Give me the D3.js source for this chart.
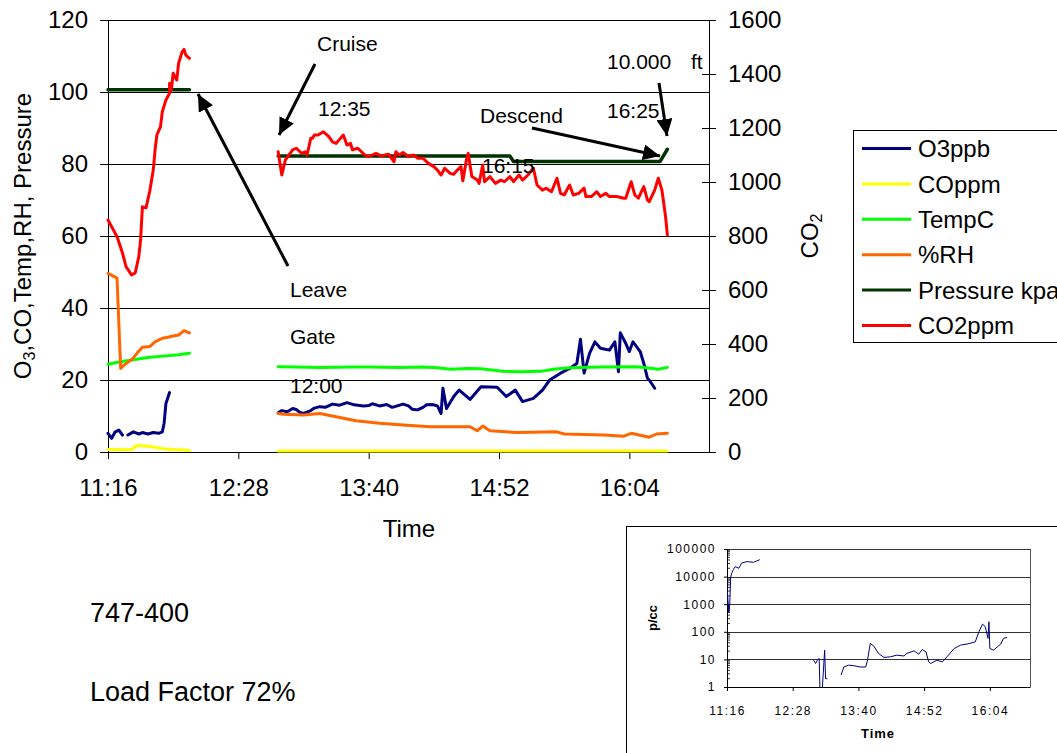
<!DOCTYPE html>
<html>
<head>
<meta charset="utf-8">
<script src="https://cdn.jsdelivr.net/npm/d3@7"></script>
<style>
body { margin: 0; background: #fff; }
svg text { font-family: Arial, "Liberation Sans", sans-serif; fill: #000; }
</style>
</head>
<body>
<svg id="chart" width="1057" height="753"></svg>
<script>
// ---- data: [clock time, value], null breaks the line ----
var o3ppb = [["11:16",5.2],["11:18",3.8],["11:20",5.6],["11:22",6.1],["11:24",4.7],["11:25",null],
  ["11:27",4.7],["11:30",5.6],["11:33",5.0],["11:35",5.4],["11:38",5.0],["11:41",5.4],["11:44",5.2],
  ["11:46",5.6],["11:47",8.0],["11:48",13.5],["11:50",16.5],["12:20",null],
  ["12:50",10.9],["12:52",11.5],["12:55",11.2],["12:58",12.1],["13:00",11.8],["13:02",11.0],["13:04",10.7],
  ["13:08",11.5],["13:10",12.2],["13:13",12.6],["13:16",12.4],["13:20",13.3],["13:24",13.0],["13:28",13.7],
  ["13:32",13.1],["13:37",12.8],["13:40",12.9],["13:42",13.4],["13:46",12.8],["13:50",13.2],["13:53",12.4],
  ["13:59",13.3],["14:02",12.8],["14:04",11.9],["14:07",11.7],["14:10",12.4],["14:12",13.1],["14:15",13.2],
  ["14:18",12.8],
  ["14:20",10.7],["14:21",17.7],["14:23",12.1],["14:27",15.4],["14:30",17.2],["14:36",14.6],["14:42",18.1],
  ["14:51",18.0],["14:56",15.4],["15:01",17.2],["15:05",14.0],["15:11",14.9],["15:16",17.2],["15:20",20.0],
  ["15:26",21.9],["15:31",23.2],["15:35",24.6],["15:37",31.3],["15:39",21.9],["15:42",27.4],["15:45",30.6],
  ["15:48",28.8],["15:53",28.3],["15:56",30.6],["15:58",22.3],["15:59",33.1],["16:02",30.2],["16:04",27.9],
  ["16:06",30.6],["16:10",27.9],["16:12",24.6],["16:14",20.5],["16:15",20.0],["16:18",17.7]];

var coppm = [["11:16",0.7],["11:29",0.6],["11:32",1.9],["11:39",1.5],["11:48",0.8],["12:01",0.4],["12:20",null],
  ["12:50",0.3],["16:25",0.3]];

var tempC = [["11:16",24.4],["11:22",25.0],["11:30",25.6],["11:39",26.3],["11:48",26.7],["11:55",27.0],["12:01",27.4],
  ["12:20",null],
  ["12:50",23.7],["13:00",23.6],["13:13",23.5],["13:30",23.6],["13:41",23.6],["13:57",23.5],["14:10",23.6],
  ["14:18",23.4],["14:25",23.0],["14:35",23.2],["14:42",23.1],["14:54",22.4],["15:04",22.3],["15:15",22.4],
  ["15:22",23.0],["15:31",23.4],["15:48",23.6],["16:08",23.7],["16:17",23.2],["16:20",23.0],["16:25",23.5]];

var rh = [["11:16",49.6],["11:20",48.6],["11:21",48.2],["11:23",23.2],["11:25",24.2],["11:29",25.6],["11:32",27.4],
  ["11:35",29.1],["11:39",29.3],["11:42",30.6],["11:46",31.6],["11:49",31.9],["11:52",32.2],["11:55",32.5],
  ["11:58",33.7],["12:01",33.1],["12:20",null],
  ["12:50",10.7],["12:53",10.5],["13:04",10.3],["13:13",10.7],["13:22",9.8],["13:33",8.7],["13:46",8.0],
  ["13:59",7.5],["14:14",7.0],["14:29",7.0],["14:36",7.0],["14:40",5.9],["14:43",7.2],["14:47",5.9],
  ["15:02",5.4],["15:24",5.6],["15:28",5.0],["15:50",4.7],["16:01",4.4],["16:05",5.2],["16:15",4.1],
  ["16:19",5.0],["16:25",5.2]];

var pressure = [["11:16",100.6],["12:01",100.6],["12:20",null],
  ["12:50",82.2],["14:58",82.2],["15:00",80.7],["16:21",80.7],["16:25",84.1]];

var co2ppm = [["11:16",859],["11:19",822],["11:21",797],["11:24",737],["11:26",686],["11:29",656],["11:31",663],
  ["11:33",723],["11:34",785],["11:35",908],["11:37",904],["11:39",964],["11:41",1044],["11:42",1119],
  ["11:43",1174],["11:45",1205],["11:46",1260],["11:48",1304],["11:50",1329],["11:50",1366],["11:51",1341],
  ["11:52",1403],["11:54",1378],["11:55",1440],["11:57",1483],["11:58",1491],["11:59",1470],["12:01",1458],
  ["12:20",null],
  ["12:50",1112],["12:52",1026],["12:54",1082],["12:58",1119],["13:00",1125],["13:03",1106],["13:05",1112],
  ["13:06",1100],["13:08",1162],["13:09",1162],["13:10",1174],["13:12",1174],["13:15",1186],["13:18",1168],
  ["13:20",1149],["13:22",1143],["13:26",1174],["13:28",1137],["13:30",1143],["13:31",1119],["13:34",1125],
  ["13:36",1112],["13:38",1100],["13:40",1094],["13:42",1100],["13:44",1106],["13:47",1096],["13:49",1100],
  ["13:51",1103],["13:54",1075],["13:55",1112],["13:57",1100],["13:59",1109],["14:02",1094],["14:05",1100],
  ["14:07",1088],["14:10",1088],["14:13",1069],["14:16",1057],["14:18",1044],["14:20",1026],["14:22",1051],
  ["14:25",1032],["14:27",1029],["14:29",1044],["14:31",1057],["14:32",1004],["14:34",1082],["14:35",1106],
  ["14:37",1020],["14:40",1007],["14:41",995],["14:43",1063],["14:44",1001],["14:47",1020],["14:50",995],
  ["14:53",1007],["14:55",1001],["14:58",1020],["15:00",1001],["15:03",1026],["15:05",1007],["15:08",1026],
  ["15:11",1051],["15:13",989],["15:16",970],["15:18",977],["15:21",964],["15:24",1014],["15:26",958],
  ["15:28",952],["15:31",989],["15:33",952],["15:36",958],["15:39",977],["15:40",946],["15:43",946],
  ["15:46",964],["15:48",946],["15:51",958],["15:53",946],["15:57",946],["16:01",940],["16:02",940],
  ["16:05",1001],["16:07",952],["16:09",940],["16:12",983],["16:14",933],["16:15",927],["16:18",970],
  ["16:20",1014],["16:22",970],["16:24",872],["16:25",804]];

// particle counts for the small log chart
var particles = [["11:16",4000],["11:17",1500],["11:18",500],["11:19",1000],["11:20",9000],["11:21",13000],
  ["11:23",18000],["11:25",23000],["11:29",20000],["11:32",31000],["11:38",35000],["11:45",33000],["11:52",41000],
  ["12:20",null],
  ["12:51",9.4],["12:53",7.1],["12:55",9.4],["12:57",10.8],["12:58",0.5],["13:00",0.5],["13:03",21.6],
  ["13:04",2.0],["13:06",2.0],["13:12",null],
  ["13:21",2.7],["13:24",5.3],["13:29",6.2],["13:35",5.9],["13:42",5.3],["13:48",5.3],["13:50",9.4],
  ["13:53",38],["13:57",30],["14:02",16.4],["14:08",11.8],["14:15",12.4],["14:22",14.2],["14:30",13.3],
  ["14:33",16.4],["14:41",20.4],["14:46",15.4],["14:50",22.9],["14:54",18.8],["14:57",8.1],["14:59",7.1],
  ["15:06",9.4],["15:12",8.1],["15:17",12.4],["15:25",25],["15:32",33],["15:39",36],["15:48",43],
  ["15:52",100],["15:56",190],["15:59",153],["16:02",58],["16:03",232],["16:04",25],["16:08",21.6],
  ["16:12",28],["16:16",36],["16:19",58],["16:23",63]];

var timeTicks = ["11:16","12:28","13:40","14:52","16:04"];
var leftTicks = [0,20,40,60,80,100,120];
var rightTicks = [0,200,400,600,800,1000,1200,1400,1600];
var logTicks = [1,10,100,1000,10000,100000];

var seriesNames = ["O3ppb","COppm","TempC","%RH","Pressure kpa","CO2ppm"];
var seriesColors = ["#000080","#ffff00","#00ff00","#ff6600","#003300","#ff0000"];

// ---- helpers ----
var toMin = function(s){ var p = s.split(":"); return (+p[0])*60 + (+p[1]); };
var fmtMin = function(m){ var h = Math.floor(m/60), mm = m%60; return h + ":" + (mm < 10 ? "0" : "") + mm; };
var font = "Arial, 'Liberation Sans', sans-serif";

var svg = d3.select("#chart");
svg.append("rect").attr("width",1057).attr("height",753).attr("fill","#fff");

// ---- main chart ----
var x = d3.scaleLinear().domain([toMin("11:16"), toMin("16:48")]).range([108, 709]);
var yL = d3.scaleLinear().domain([0,120]).range([452,20]);
var yR = d3.scaleLinear().domain([0,1600]).range([452,20]);

// gridlines
svg.append("g").selectAll("line").data(leftTicks).enter().append("line")
    .attr("x1",108).attr("x2",709)
    .attr("y1",function(d){ return Math.round(yL(d)) + 0.5; })
    .attr("y2",function(d){ return Math.round(yL(d)) + 0.5; })
    .attr("stroke","#000").attr("stroke-width",1);

function styleAxis(g, size){
    g.attr("font-family", font).attr("font-size", size).attr("color","#000");
}

var gLeft = svg.append("g").attr("transform","translate(108,0)")
    .call(d3.axisLeft(yL).tickValues(leftTicks).tickSizeInner(8).tickSizeOuter(0).tickPadding(12));
styleAxis(gLeft, 24);

var gRight = svg.append("g").attr("transform","translate(709,0)")
    .call(d3.axisRight(yR).tickValues(rightTicks).tickFormat(d3.format("d"))
        .tickSizeInner(7).tickSizeOuter(0).tickPadding(12));
styleAxis(gRight, 24);
gRight.selectAll(".tick line").attr("x1",-7);

var gBottom = svg.append("g").attr("transform","translate(0,452)")
    .call(d3.axisBottom(x).tickValues(timeTicks.map(toMin)).tickFormat(fmtMin)
        .tickSizeInner(7).tickSizeOuter(0).tickPadding(20));
styleAxis(gBottom, 24);

// series lines
var allSeries = [o3ppb, coppm, tempC, rh, pressure, co2ppm];
var series = seriesNames.map(function(n, i){
    return {name: n, color: seriesColors[i], data: allSeries[i], y: n === "CO2ppm" ? yR : yL,
            width: n === "Pressure kpa" ? 3.5 : 3};
});

series.forEach(function(s){
    var line = d3.line()
        .defined(function(d){ return d[1] !== null; })
        .x(function(d){ return x(toMin(d[0])); })
        .y(function(d){ return s.y(d[1]); });
    svg.append("path").datum(s.data)
        .attr("d", line)
        .attr("fill","none")
        .attr("stroke", s.color)
        .attr("stroke-width", s.width)
        .attr("stroke-linejoin","round")
        .attr("stroke-linecap","round");
});

// axis titles
var leftTitle = svg.append("text")
    .attr("transform","translate(31,236) rotate(-90)")
    .attr("text-anchor","middle").attr("font-size",24);
leftTitle.append("tspan").text("O");
leftTitle.append("tspan").attr("font-size",16).attr("dy",4).text("3");
leftTitle.append("tspan").attr("dy",-4).text(",CO,Temp,RH, Pressure");

var rightTitle = svg.append("text")
    .attr("transform","translate(818,236) rotate(-90)")
    .attr("text-anchor","middle").attr("font-size",24);
rightTitle.append("tspan").text("CO");
rightTitle.append("tspan").attr("font-size",16).attr("dy",4).text("2");

svg.append("text").attr("x",409).attr("y",537).attr("text-anchor","middle")
    .attr("font-size",24).text("Time");

// annotations
var notes = [
    ["Cruise",317,51],["12:35",318,116],["10.000",607,69],["ft",691,69],["16:25",607,118],
    ["Descend",480,123],["16:15",482,173],["Leave",290,297],["Gate",290,344],["12:00",290,393]
];
svg.append("g").selectAll("text").data(notes).enter().append("text")
    .attr("x",function(d){ return d[1]; }).attr("y",function(d){ return d[2]; })
    .attr("font-size",21).text(function(d){ return d[0]; });

svg.append("defs").append("marker")
    .attr("id","head").attr("markerUnits","userSpaceOnUse")
    .attr("markerWidth",18).attr("markerHeight",16)
    .attr("refX",17).attr("refY",8).attr("orient","auto")
    .append("path").attr("d","M0,0 L17,8 L0,16 Z").attr("fill","#000");

var arrows = [[315,64,279,135],[288,266,198,94],[532,128,660,156],[659,83,667,136]];
svg.append("g").selectAll("line").data(arrows).enter().append("line")
    .attr("x1",function(d){ return d[0]; }).attr("y1",function(d){ return d[1]; })
    .attr("x2",function(d){ return d[2]; }).attr("y2",function(d){ return d[3]; })
    .attr("stroke","#000").attr("stroke-width",3)
    .attr("marker-end","url(#head)");

// legend (runs past the right edge, as in the original)
var legend = svg.append("g");
legend.append("rect").attr("x",853.5).attr("y",130.5).attr("width",230).attr("height",212)
    .attr("fill","#fff").attr("stroke","#000");
var item = legend.selectAll("g.item").data(series).enter().append("g")
    .attr("class","item")
    .attr("transform",function(d,i){ return "translate(0," + (148.5 + i*35.4) + ")"; });
item.append("line").attr("x1",862).attr("x2",911)
    .attr("stroke",function(d){ return d.color; }).attr("stroke-width",3);
item.append("text").attr("x",918).attr("dy","0.36em").attr("font-size",24)
    .text(function(d){ return d.name; });

// side notes
svg.append("text").attr("x",90).attr("y",622).attr("font-size",27).text("747-400");
svg.append("text").attr("x",90).attr("y",701).attr("font-size",27).text("Load Factor 72%");

// ---- inset: particle counts (log scale) ----
var inset = svg.append("g");
inset.append("rect").attr("x",626.5).attr("y",526.5).attr("width",500).attr("height",300)
    .attr("fill","#fff").attr("stroke","#000");

var xi = d3.scaleLinear().domain(x.domain()).range([727, 1030]);
var yi = d3.scaleLog().domain([1,100000]).range([687,549]);

inset.append("g").selectAll("line").data(logTicks).enter().append("line")
    .attr("x1",727).attr("x2",1030)
    .attr("y1",function(d){ return Math.round(yi(d)) + 0.5; })
    .attr("y2",function(d){ return Math.round(yi(d)) + 0.5; })
    .attr("stroke","#333").attr("stroke-width",1.2);
inset.append("line").attr("x1",1030.5).attr("x2",1030.5).attr("y1",549).attr("y2",687)
    .attr("stroke","#555");

var minor = [];
logTicks.slice(0,-1).forEach(function(t){ for (var k = 2; k < 10; k++) minor.push(t*k); });
inset.append("g").selectAll("line").data(minor).enter().append("line")
    .attr("x1",727).attr("x2",730)
    .attr("y1",function(d){ return yi(d); }).attr("y2",function(d){ return yi(d); })
    .attr("stroke","#000").attr("stroke-width",0.8);

var gIL = inset.append("g").attr("transform","translate(727,0)")
    .call(d3.axisLeft(yi).tickValues(logTicks).tickFormat(d3.format("d"))
        .tickSizeInner(3).tickSizeOuter(0).tickPadding(8));
styleAxis(gIL, 12);
gIL.selectAll("text").attr("letter-spacing","1.5px");

var gIB = inset.append("g").attr("transform","translate(0,687)")
    .call(d3.axisBottom(xi).tickValues(timeTicks.map(toMin)).tickFormat(fmtMin)
        .tickSizeInner(4).tickSizeOuter(0).tickPadding(15));
styleAxis(gIB, 12);
gIB.selectAll("text").attr("letter-spacing","1.5px");

inset.append("clipPath").attr("id","insetClip").append("rect")
    .attr("x",727).attr("y",549).attr("width",303).attr("height",138);

var pLine = d3.line()
    .defined(function(d){ return d[1] !== null; })
    .x(function(d){ return xi(toMin(d[0])); })
    .y(function(d){ return yi(d[1]); });
inset.append("path").datum(particles)
    .attr("clip-path","url(#insetClip)")
    .attr("d", pLine).attr("fill","none").attr("stroke","#000080").attr("stroke-width",1);

inset.append("text").attr("x",878).attr("y",738).attr("text-anchor","middle")
    .attr("font-size",13).attr("font-weight","bold").attr("letter-spacing","1px").text("Time");
inset.append("text").attr("transform","translate(657,618) rotate(-90)")
    .attr("text-anchor","middle").attr("font-size",13).attr("font-weight","bold").text("p/cc");
</script>
</body>
</html>
